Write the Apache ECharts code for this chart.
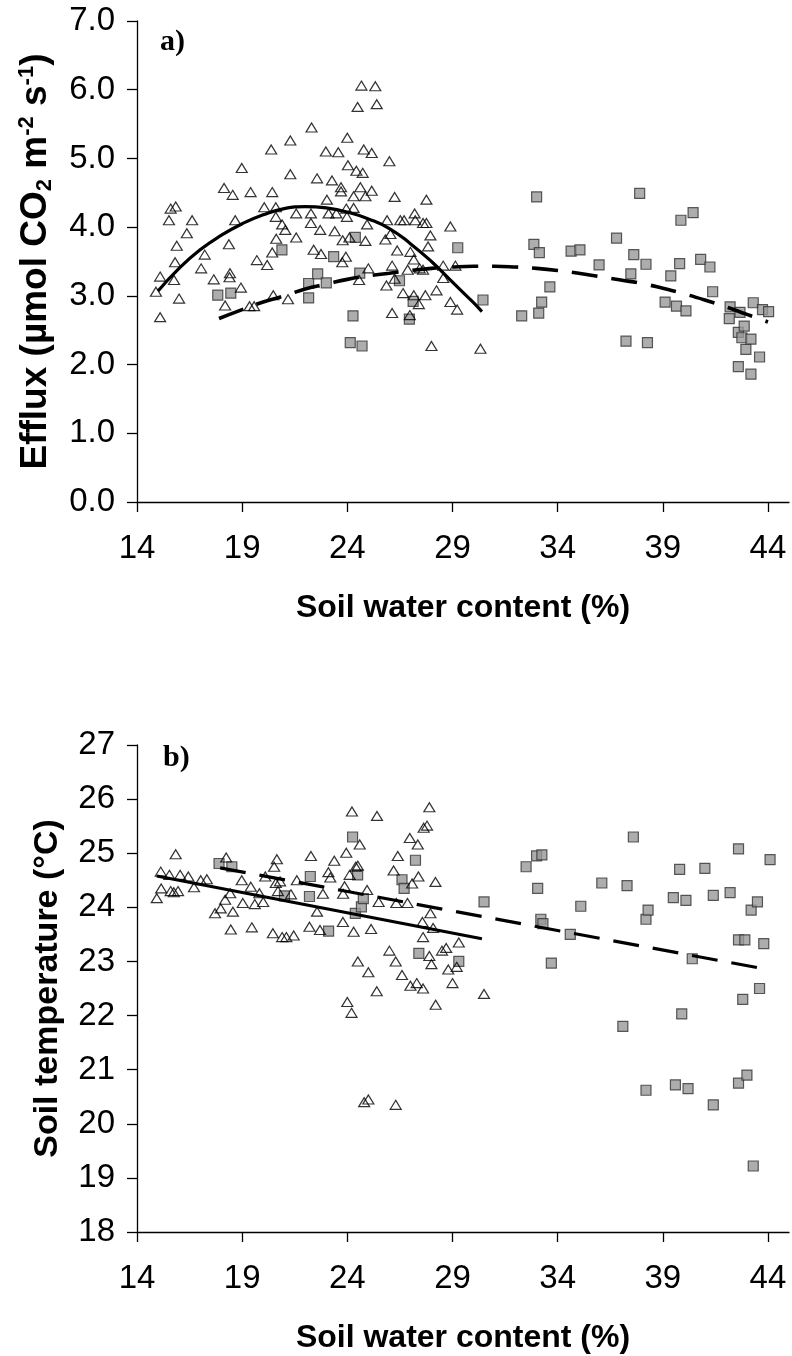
<!DOCTYPE html>
<html><head><meta charset="utf-8">
<script src="https://cdn.jsdelivr.net/npm/echarts@6/dist/echarts.min.js"></script>
<style>html,body{margin:0;padding:0;background:#fff}#c{width:792px;height:1356px}</style>
</head><body><div id="c"></div>
<script>
// ---------- data ----------
const xTicks = [14, 19, 24, 29, 34, 39, 44];
const effluxTicks = [0, 1, 2, 3, 4, 5, 6, 7];
const tempTicks = [18, 19, 20, 21, 22, 23, 24, 25, 26, 27];

// panel a) soil CO2 efflux vs soil water content
const effluxTriangles = [
 [14.9,3.06],[15.1,2.69],[15.1,3.28],[15.52,4.10],[15.6,4.27],[15.84,4.30],[15.76,3.23],[15.81,3.49],[15.89,3.73],[16.0,2.96],
 [16.37,3.91],[16.62,4.10],[17.05,3.40],[17.22,3.60],[17.65,3.24],[18.14,4.57],[18.19,2.86],[18.37,3.75],[18.4,3.27],[18.42,3.33],
 [18.55,4.47],[18.67,4.10],[18.94,3.12],[18.98,4.86],[19.35,2.85],[19.57,2.85],[19.4,4.51],[19.7,3.52],[20.05,4.29],[20.19,3.45],
 [20.38,5.13],[20.43,4.51],[20.43,3.63],[20.48,3.01],[20.6,4.29],[20.6,4.15],[20.62,3.83],[20.9,4.04],[21.05,3.96],[21.18,2.95],
 [21.29,5.26],[21.29,4.77],[21.57,4.20],[21.57,3.85],[22.27,4.20],[22.27,4.06],[22.3,5.45],[22.4,3.67],[22.56,4.71],[22.71,3.96],
 [22.75,3.61],[22.98,5.10],[23.03,4.40],[23.11,4.20],[23.27,4.68],[23.4,3.94],[23.48,4.20],[23.57,5.09],[23.7,4.58],[23.7,4.52],
 [23.76,3.49],[23.78,3.81],[23.93,3.57],[23.95,4.27],[23.98,4.15],[24.0,5.30],[24.03,4.90],[24.1,3.85],[24.3,4.45],[24.3,4.28],
 [24.43,4.82],[24.49,5.75],[24.56,3.23],[24.62,4.58],[24.67,6.06],[24.73,4.79],[24.78,5.13],[24.86,4.45],[24.86,3.80],[24.94,4.04],
 [25.0,3.40],[25.16,5.08],[25.16,4.53],[25.33,6.05],[25.4,5.79],[25.81,3.82],[25.86,3.15],[25.89,4.10],[26.0,4.96],[26.05,3.90],
 [26.13,3.44],[26.13,2.75],[26.25,4.44],[26.25,3.25],[26.37,3.66],[26.52,4.10],[26.65,3.04],[26.7,4.10],[26.87,3.38],[26.97,2.72],
 [27.0,3.64],[27.16,3.53],[27.16,3.01],[27.2,4.20],[27.23,4.10],[27.4,2.88],[27.44,3.40],[27.6,4.06],[27.6,3.38],[27.71,3.01],
 [27.76,4.40],[27.76,4.06],[27.84,3.72],[27.95,3.88],[28.0,2.27],[28.24,3.08],[28.56,3.44],[28.56,3.26],[28.9,4.01],[28.9,2.91],
 [29.14,3.44],[29.22,2.80],[30.33,2.23]
];
const effluxSquares = [
 [17.84,3.01],[18.46,3.04],[20.89,3.67],[22.16,3.18],[22.16,2.97],[22.59,3.32],[23.0,3.19],[23.35,3.57],[24.14,2.32],[24.27,2.71],
 [24.38,3.85],[24.59,3.33],[24.7,2.27],[26.48,3.22],[26.95,2.66],[27.13,2.92],[29.25,3.70],[30.45,2.94],[32.29,2.71],[32.87,3.75],
 [33.0,4.44],[33.1,2.75],[33.13,3.63],[33.24,2.91],[33.63,3.13],[34.64,3.65],[35.06,3.67],[35.97,3.45],[36.8,3.84],[37.25,2.34],
 [37.48,3.32],[37.62,3.60],[37.9,4.49],[38.2,3.46],[38.27,2.32],[39.11,2.91],[39.38,3.29],[39.65,2.85],[39.8,3.47],[39.86,4.10],
 [40.1,2.78],[40.44,4.21],[40.8,3.53],[41.24,3.42],[41.37,3.06],[42.16,2.67],[42.2,2.84],[42.59,2.47],[42.59,1.97],[42.67,2.76],
 [42.76,2.39],[42.87,2.56],[42.95,2.22],[43.19,2.37],[43.19,1.86],[43.3,2.90],[43.6,2.11],[43.74,2.80],[44.03,2.77]
];
const effluxSolidFit = [
 [15.0,3.07],[16,3.40],[17,3.67],[18,3.88],[19,4.05],[20,4.18],[21,4.27],[22,4.30],[23,4.28],[24,4.22],
 [25,4.12],[26,3.98],[27,3.76],[28,3.50],[29,3.20],[30,2.90],[30.4,2.77]
];
const effluxDashedFit = [
 [17.9,2.67],[19,2.80],[20,2.91],[21,3.00],[22,3.10],[23,3.17],[24,3.24],[25,3.29],[26,3.33],[27,3.37],
 [28,3.40],[29,3.42],[30,3.43],[31,3.43],[32,3.42],[33,3.40],[34,3.37],[35,3.33],[36,3.28],[37,3.23],
 [38,3.18],[39,3.11],[40,3.03],[41,2.94],[42,2.84],[43,2.73],[44,2.62]
];

// panel b) soil temperature vs soil water content
const tempTriangles = [
 [14.94,24.17],[15.13,24.66],[15.15,24.35],[15.54,24.60],[15.6,24.30],[15.75,24.28],[15.84,24.98],[15.95,24.30],[16.05,24.60],[16.44,24.57],
 [16.71,24.37],[17.03,24.50],[17.32,24.52],[17.71,23.89],[17.98,23.98],[18.19,24.14],[18.24,24.92],[18.43,24.26],[18.46,23.59],[18.56,23.92],
 [18.98,24.50],[19.03,24.08],[19.41,24.38],[19.46,23.63],[19.6,24.06],[19.82,24.26],[20.0,24.10],[20.1,24.57],[20.46,23.52],[20.52,24.75],
 [20.6,24.45],[20.65,24.89],[20.7,24.30],[20.8,24.48],[20.9,23.45],[21.1,23.45],[21.32,24.24],[21.45,23.48],[21.6,24.50],[22.2,23.64],
 [22.27,24.95],[22.56,23.92],[22.7,23.58],[22.84,24.25],[23.1,24.65],[23.19,24.55],[23.38,24.86],[23.79,23.73],[23.8,24.25],[23.87,24.39],
 [23.95,25.01],[24.11,24.60],[24.22,25.77],[24.4,24.75],[24.5,24.77],[24.59,25.16],[24.94,24.32],[25.13,23.60],[25.41,25.69],[25.49,24.10],
 [26.2,24.68],[26.33,24.08],[26.4,24.95],[26.86,24.08],[26.97,25.28],[27.08,24.44],[27.35,25.16],[27.38,24.57],[27.57,23.73],[27.6,23.45],
 [27.63,25.47],[27.79,25.51],[27.9,25.85],[27.95,23.89],[28.08,23.62],[28.19,24.47],
 [24.0,22.25],[24.2,22.05],[24.8,20.4],[25.0,20.45],[26.3,20.35],[24.5,23.0],[25.4,22.45],[25.0,22.8],[26.0,23.2],[26.3,23.0],
 [26.6,22.75],[27.0,22.55],[27.3,22.6],[27.6,22.5],[28.0,22.95],[28.2,22.2],[28.5,23.2],[28.7,23.25],[29.0,22.6],[29.2,22.9],
 [29.3,23.35],[30.5,22.4],[28.8,22.85],[27.9,23.1],[24.3,23.55]
];
const tempSquares = [
 [17.9,24.81],[18.51,24.75],[21.01,24.21],[22.2,24.20],[22.24,24.57],[23.11,23.56],[24.25,25.30],[24.38,23.89],[24.49,24.60],[24.67,24.01],
 [24.76,24.16],[26.6,24.51],[26.7,24.35],[27.24,24.87],[27.4,23.15],[29.3,23.0],[30.5,24.1],[32.5,24.75],[33.0,24.95],[33.25,24.97],
 [33.05,24.35],[33.2,23.78],[33.3,23.7],[33.7,22.97],[34.6,23.5],[35.1,24.02],[36.1,24.45],[37.1,21.8],[37.3,24.4],[37.6,25.3],
 [38.2,23.78],[38.3,23.95],[38.2,20.62],[39.5,24.18],[39.6,20.72],[39.8,24.7],[39.9,22.03],[40.1,24.13],[40.2,20.65],[40.4,23.05],
 [41.0,24.72],[41.4,24.22],[41.4,20.35],[42.2,24.27],[42.6,25.08],[42.6,23.4],[42.6,20.75],[42.8,22.3],[42.9,23.4],[43.0,20.9],
 [43.2,23.95],[43.3,19.22],[43.5,24.1],[43.6,22.5],[43.8,23.33],[44.1,24.88]
];
const tempSolidFit = [[14.94,24.58],[30.4,23.42]];
const tempDashedFit = [[17.95,24.73],[44,22.85]];

// ---------- styling ----------
const SANS = "'Liberation Sans', Arial, sans-serif";
const tickFont = 33;

function xAxisFor(gi) {
  return {
    type: 'value', gridIndex: gi, min: 14, max: 45, interval: 5,
    name: 'Soil water content (%)', nameLocation: 'middle', nameGap: 90,
    nameTextStyle: {fontFamily: SANS, fontWeight: 'bold', fontSize: 32, color: '#000'},
    axisLine: {onZero: false, lineStyle: {color: '#000', width: 1.3}},
    axisTick: {show: true, length: 10, inside: false, customValues: xTicks, lineStyle: {color: '#000', width: 1.3}},
    axisLabel: {customValues: xTicks, margin: 30, fontFamily: SANS, fontSize: tickFont, color: '#000'},
    splitLine: {show: false}
  };
}
function yAxisFor(gi, ticks, fmt, name, fontSize, rich) {
  return {
    type: 'value', gridIndex: gi, min: ticks[0], max: ticks[ticks.length - 1], interval: 1,
    name: name, nameLocation: 'middle', nameGap: 72, nameRotate: 90,
    nameTextStyle: Object.assign({fontFamily: SANS, fontWeight: 'bold', fontSize: fontSize, color: '#000'}, rich ? {rich: rich} : {}),
    axisLine: {onZero: false, lineStyle: {color: '#000', width: 1.3}},
    axisTick: {show: true, length: 10, inside: false, lineStyle: {color: '#000', width: 1.3}},
    axisLabel: {margin: 22, fontFamily: SANS, fontSize: tickFont, color: '#000', formatter: fmt},
    splitLine: {show: false}
  };
}
const effluxRich = {
  a: {fontFamily: SANS, fontWeight: 'bold', fontSize: 37, lineHeight: 44, verticalAlign: 'middle'},
  sub: {fontFamily: SANS, fontWeight: 'bold', fontSize: 22, lineHeight: 44, verticalAlign: 'bottom', padding: [0, 0, 2, 0]},
  sup: {fontFamily: SANS, fontWeight: 'bold', fontSize: 22, lineHeight: 44, verticalAlign: 'top', padding: [2, 0, 0, 0]}
};
const effluxName = '{a|Efflux (µmol CO}{sub|2}{a| m}{sup|-2}{a| s}{sup|-1}{a|)}';

const triStyle = {color: 'rgba(255,255,255,0)', borderColor: '#000', borderWidth: 1.2};
const sqStyle = {color: '#999999', borderColor: '#333', borderWidth: 1.2};
function scatter(data, gi, kind) {
  return {
    type: 'scatter', xAxisIndex: gi, yAxisIndex: gi, data: data,
    symbol: kind === 'tri' ? 'triangle' : 'rect',
    symbolSize: kind === 'tri' ? [11, 9] : 10,
    itemStyle: kind === 'tri' ? triStyle : sqStyle,
    z: kind === 'tri' ? 3 : 2, silent: true
  };
}
function fit(data, gi, dashed, smooth, w) {
  return {
    type: 'line', xAxisIndex: gi, yAxisIndex: gi, data: data, smooth: smooth,
    showSymbol: false, symbol: 'none', silent: true, z: 5,
    lineStyle: {color: '#000', width: w, type: dashed ? [26, 14] : 'solid'}
  };
}

const chart = echarts.init(document.getElementById('c'), null, {renderer: 'canvas'});
chart.setOption({
  animation: false,
  backgroundColor: '#fff',
  grid: [
    {left: 137, top: 21, width: 652, height: 481},
    {left: 137, top: 745, width: 652, height: 487}
  ],
  xAxis: [xAxisFor(0), xAxisFor(1)],
  yAxis: [
    yAxisFor(0, effluxTicks, v => v.toFixed(1), effluxName, 37, effluxRich),
    yAxisFor(1, tempTicks, v => String(v), 'Soil temperature (°C)', 34, null)
  ],
  graphic: [
    {type: 'text', left: 160, top: 27, style: {text: 'a)', font: "bold 30px 'Liberation Serif', 'Times New Roman', serif", fill: '#000'}},
    {type: 'text', left: 163, top: 743, style: {text: 'b)', font: "bold 30px 'Liberation Serif', 'Times New Roman', serif", fill: '#000'}}
  ],
  series: [
    scatter(effluxSquares, 0, 'sq'),
    scatter(effluxTriangles, 0, 'tri'),
    fit(effluxSolidFit, 0, false, true, 3.2),
    fit(effluxDashedFit, 0, true, true, 3.6),
    scatter(tempSquares, 1, 'sq'),
    scatter(tempTriangles, 1, 'tri'),
    fit(tempSolidFit, 1, false, false, 3.2),
    fit(tempDashedFit, 1, true, false, 3.2)
  ]
});
</script>
</body></html>
